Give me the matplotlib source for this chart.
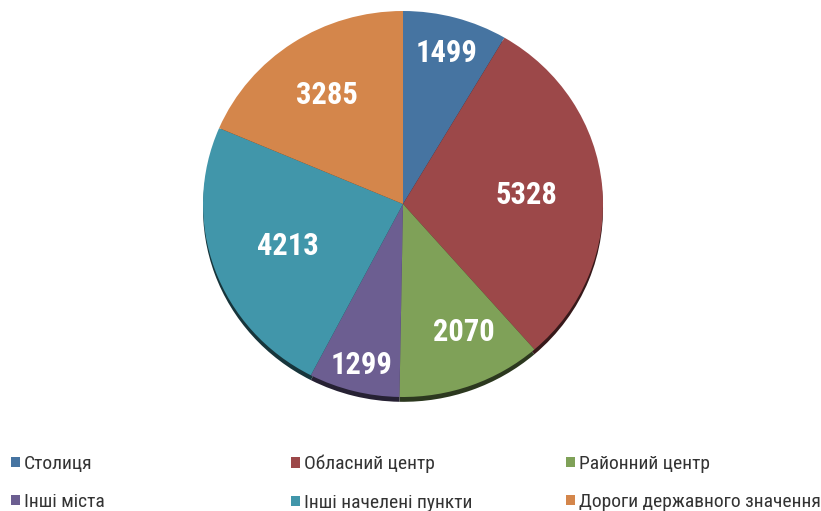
import matplotlib
matplotlib.use("Agg")
import numpy as np
import matplotlib.pyplot as plt
from matplotlib import font_manager

# data
categories = ["Столиця", "Обласний центр", "Районний центр",
              "Інші міста", "Інші начелені пункти", "Дороги державного значення"]
values = [1499, 5328, 2070, 1299, 4213, 3285]
colors = ["#4674a1", "#9c4849", "#7fa158", "#6c5e91", "#4196aa", "#d4864b"]

# label placement (fraction of radius, angle tweak in degrees)
label_dist = [0.82, 0.62, 0.72, 0.85, 0.61, 0.69]
label_turn = [0, 0, -5, 0, 0, 0]


def pick_font(names):
    for n in names:
        try:
            font_manager.findfont(n, fallback_to_default=False)
            return n
        except Exception:
            continue
    return "DejaVu Sans"


font = pick_font(["Roboto Condensed", "Liberation Sans Narrow", "Roboto"])
plt.rcParams["font.family"] = [font, "DejaVu Sans"]

fig = plt.figure(figsize=(8.21, 5.11), dpi=100)
W, H = 821, 511
cx, cy, rx, ry = 403, 204, 200, 193
ax = fig.add_axes([(cx - rx) / W, (H - cy - ry) / H, 2 * rx / W, 2 * ry / H])


def darken(c, f):
    r, g, b = matplotlib.colors.to_rgb(c)
    return (r * f, g * f, b * f)


# shadow underneath
ax.pie(values, colors=[darken(c, 0.35) for c in colors], startangle=90,
       counterclock=False, radius=1.0, center=(0, -0.025), frame=True,
       wedgeprops=dict(linewidth=0))
wedges, _ = ax.pie(values, colors=colors, startangle=90, counterclock=False,
                   radius=1.0, center=(0, 0), frame=True,
                   wedgeprops=dict(linewidth=0))
ax.set_xlim(-1, 1)
ax.set_ylim(-1, 1)
ax.set_aspect("auto")
ax.axis("off")

total = sum(values)
start = 90.0
for v, d, t in zip(values, label_dist, label_turn):
    span = v / total * 360
    mid = np.deg2rad(start - span / 2 - t)
    start -= span
    ax.text(d * np.cos(mid), d * np.sin(mid) - 0.01, f"{v}", color="white",
            fontsize=22, fontweight="bold", ha="center", va="center")

# legend, one per column
col_x = [3, 283, 558]
for i, x in enumerate(col_x):
    fig.legend(handles=[wedges[i], wedges[i + 3]],
               labels=[categories[i], categories[i + 3]],
               loc="upper left", bbox_to_anchor=(x / W, 1 - 447 / H),
               frameon=False, fontsize=14, handlelength=0.45, handleheight=0.45,
               handletextpad=0.22, labelspacing=1.05, borderaxespad=0,
               labelcolor="#333333")

fig.savefig("out.png", dpi=100)
